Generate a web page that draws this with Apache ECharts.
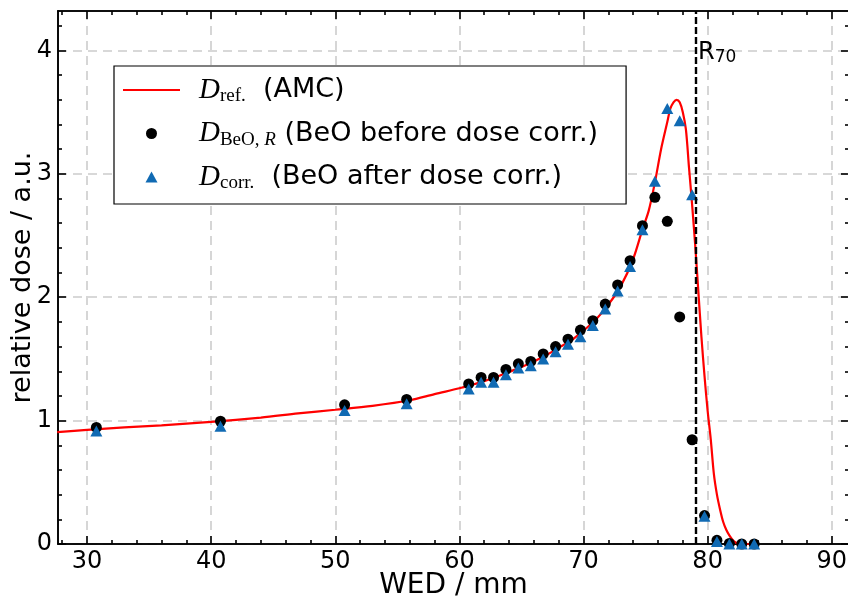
<!DOCTYPE html>
<html><head><meta charset="utf-8">
<script src="https://cdn.jsdelivr.net/npm/echarts@6/dist/echarts.min.js"></script>
<style>html,body{margin:0;padding:0;background:#fff}#c{width:848px;height:599px}</style>
</head><body><div id="c"></div>
<script>
// reference curve D_ref (AMC)
const refX = [27.6, 30, 33, 36, 40, 44, 47, 50, 53, 56, 58, 60, 61, 62, 63, 64, 65, 66, 67, 68, 69, 70, 71, 72, 73, 74,
  74.75, 75.25, 75.75, 76.25, 76.75, 77.0, 77.25, 77.5, 77.75, 78.0, 78.25, 78.5, 78.75, 79.0, 79.25, 79.5, 79.75,
  80.0, 80.25, 80.5, 80.75, 81.0, 81.25, 81.5, 81.75, 82.0, 82.25, 82.5, 83.0, 84.0];
const refY = [0.907, 0.925, 0.945, 0.962, 0.99, 1.025, 1.058, 1.088, 1.12, 1.165, 1.215, 1.262, 1.29, 1.32, 1.355, 1.395, 1.435, 1.48, 1.53, 1.59, 1.65, 1.73, 1.82, 1.94, 2.09, 2.31,
  2.55, 2.70, 2.93, 3.20, 3.42, 3.53, 3.58, 3.60, 3.58, 3.50, 3.36, 3.05, 2.75, 2.42, 2.05, 1.68, 1.36,
  1.08, 0.85, 0.57, 0.40, 0.28, 0.18, 0.115, 0.07, 0.035, 0.012, 0.002, 0.0, 0.0];
// measurement positions (WED / mm)
const pointX = [30.75, 40.75, 50.75, 55.75, 60.75, 61.75, 62.75, 63.75, 64.75, 65.75, 66.75, 67.75, 68.75, 69.75,
  70.75, 71.75, 72.75, 73.75, 74.75, 75.75, 76.75, 77.75, 78.75, 79.75, 80.75, 81.75, 82.75, 83.75];
// D_BeO,R (before dose correction)
const beoY = [0.945, 0.995, 1.128, 1.172, 1.297, 1.35, 1.35, 1.415, 1.46, 1.48, 1.54, 1.60, 1.66, 1.734,
  1.81, 1.945, 2.10, 2.296, 2.58, 2.81, 2.615, 1.84, 0.845, 0.23, 0.03, 0.005, 0.0, 0.0];
// D_corr (after dose correction)
const corrY = [0.915, 0.955, 1.083, 1.137, 1.256, 1.31, 1.31, 1.372, 1.426, 1.445, 1.50, 1.558, 1.62, 1.68,
  1.77, 1.905, 2.05, 2.25, 2.547, 2.94, 3.53, 3.43, 2.83, 0.224, 0.02, 0.0, 0.0, 0.0];
const R70 = 79.06;
const xTicks = [30, 40, 50, 60, 70, 80, 90];
const xMinorTicks = [28, 32, 34, 36, 38, 42, 44, 46, 48, 52, 54, 56, 58, 62, 64, 66, 68, 72, 74, 76, 78, 82, 84, 86, 88];
const yTicks = [0, 1, 2, 3, 4];
const yMinorTicks = [0.2, 0.4, 0.6, 0.8, 1.2, 1.4, 1.6, 1.8, 2.2, 2.4, 2.6, 2.8, 3.2, 3.4, 3.6, 3.8, 4.2];
const xRange = [27.66, 91.39];
const yRange = [0, 4.32];

const pairs = (xs, ys) => xs.map((x, i) => [x, ys[i]]);
const black = '#000';
const FONT = 'DejaVu Sans';
const lineSt = { color: black, width: 1.6 };
const gridSt = { type: [9, 6], color: '#cccccc', width: 1.6 };

function xAx(pos, ticks, len, main) {
  return {
    type: 'value', position: pos, min: xRange[0], max: xRange[1],
    axisLine: { show: true, onZero: false, lineStyle: lineSt },
    axisTick: { show: true, inside: true, length: len, customValues: ticks, lineStyle: lineSt },
    axisLabel: main ? { show: true, customValues: xTicks, fontSize: 24, fontFamily: FONT, color: black, margin: 6 } : { show: false },
    splitLine: main ? { show: true, lineStyle: gridSt } : { show: false },
    name: main ? 'WED / mm' : '', nameLocation: 'middle', nameGap: 28, nameMoveOverlap: false,
    nameTextStyle: { fontSize: 28, fontFamily: FONT, color: black }
  };
}
function yAx(pos, ticks, len, main) {
  return {
    type: 'value', position: pos, min: yRange[0], max: yRange[1],
    axisLine: { show: true, onZero: false, lineStyle: lineSt },
    axisTick: { show: true, inside: true, length: len, customValues: ticks, lineStyle: lineSt },
    axisLabel: main ? { show: true, customValues: yTicks, fontSize: 24, fontFamily: FONT, color: black, margin: 6 } : { show: false },
    splitLine: main ? { show: true, lineStyle: gridSt } : { show: false },
    name: main ? 'relative dose / a.u.' : '', nameLocation: 'middle', nameGap: 22, nameMoveOverlap: false,
    nameTextStyle: { fontSize: 27, fontFamily: FONT, color: black }
  };
}

const legendText = {
  ref: '{g|}{D|D}{s|ref.}{t|  (AMC)}',
  beo: '{g|}{D|D}{s|BeO,}{si| R}{t| (BeO before dose corr.)}',
  corr: '{g|}{D|D}{s|corr.}{t|  (BeO after dose corr.)}'
};

const chart = echarts.init(document.getElementById('c'), null, { renderer: 'canvas' });
chart.setOption({
  animation: false,
  backgroundColor: '#fff',
  grid: { left: 58, top: 11, width: 791, height: 533, containLabel: false, outerBoundsMode: 'none' },
  xAxis: [xAx('bottom', xTicks, 8, true), xAx('bottom', xMinorTicks, 4, false), xAx('top', xTicks, 8, false), xAx('top', xMinorTicks, 4, false)],
  yAxis: [yAx('left', yTicks, 8, true), yAx('left', yMinorTicks, 4, false), yAx('right', yTicks, 8, false), yAx('right', yMinorTicks, 4, false)],
  legend: {
    orient: 'vertical', left: 114, top: 66,
    padding: [8, 28, 11, 9], itemGap: 11.5, itemWidth: 57, itemHeight: 11,
    backgroundColor: '#fff', borderColor: black, borderWidth: 1.2, borderRadius: 0,
    data: [
      { name: 'ref', icon: 'path://M0,0 L57,0 L57,2.2 L0,2.2 Z' },
      { name: 'beo', icon: 'circle' },
      { name: 'corr', icon: 'path://M0,11 L6,0 L12,11 Z' }
    ],
    symbolKeepAspect: true,
    formatter: n => legendText[n],
    textStyle: {
      color: black, fontSize: 27, fontFamily: FONT,
      rich: {
        g: { width: 14, lineHeight: 30 },
        D: { fontFamily: 'Liberation Serif', fontStyle: 'italic', fontSize: 29, color: black, lineHeight: 30 },
        s: { fontFamily: 'Liberation Serif', fontSize: 19, color: black, padding: [13, 0, 0, 0], lineHeight: 30 },
        si: { fontFamily: 'Liberation Serif', fontStyle: 'italic', fontSize: 19, color: black, padding: [13, 0, 0, 0], lineHeight: 30 },
        t: { fontFamily: FONT, fontSize: 27, color: black, lineHeight: 30 }
      }
    }
  },
  series: [
    {
      name: 'r70', type: 'line', data: [], xAxisIndex: 0, yAxisIndex: 0, z: 1,
      markLine: {
        silent: true, symbol: 'none', animation: false,
        lineStyle: { color: black, type: [7, 3], width: 2.4 },
        label: { show: false },
        data: [{ xAxis: R70 }]
      },
      markPoint: {
        silent: true, symbol: 'circle', symbolSize: 0,
        data: [{ coord: [R70, 3.98] }],
        label: {
          show: true, position: 'right', distance: 2,
          formatter: '{r|R}{n|70}',
          rich: {
            r: { fontFamily: FONT, fontSize: 24, color: black, lineHeight: 30 },
            n: { fontFamily: FONT, fontSize: 17, color: black, padding: [10, 0, 0, 0], lineHeight: 30 }
          }
        }
      }
    },
    {
      name: 'ref', type: 'line', data: pairs(refX, refY), xAxisIndex: 0, yAxisIndex: 0,
      showSymbol: false, symbol: 'none', smooth: 0.3, z: 2,
      lineStyle: { color: '#ff0000', width: 2.2 }, itemStyle: { color: '#ff0000' }
    },
    {
      name: 'beo', type: 'scatter', data: pairs(pointX, beoY), xAxisIndex: 0, yAxisIndex: 0,
      symbol: 'circle', symbolSize: 11, z: 3, itemStyle: { color: black, opacity: 1 }
    },
    {
      name: 'corr', type: 'scatter', data: pairs(pointX, corrY), xAxisIndex: 0, yAxisIndex: 0,
      symbol: 'triangle', symbolSize: [12, 11], z: 4, itemStyle: { color: '#106ab3', opacity: 1 }
    }
  ]
});
</script>
</body></html>
